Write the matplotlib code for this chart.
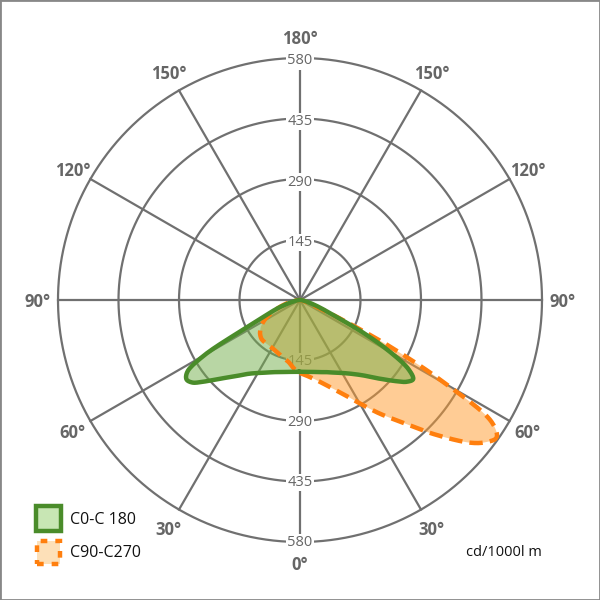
import numpy as np
import matplotlib.pyplot as plt
from matplotlib.patches import Rectangle
from matplotlib.transforms import offset_copy

# gamma angles (deg) and intensities (cd/1000lm)
gamma = [0, 5, 10, 15, 20, 25, 30, 35, 40, 45, 50, 52.5, 55, 57.5, 60, 62.5, 65, 70, 75, 80, 85, 90]

c0 = [172, 173, 175, 179, 184, 192, 202, 216, 236, 266, 303, 322, 331, 308, 250, 175, 100, 45, 20, 8, 3, 0]
c180 = [172, 173, 175, 179, 184, 192, 202, 216, 238, 266, 305, 325, 332, 320, 265, 155, 100, 55, 25, 10, 3, 0]
c90 = [175, 182, 192, 206, 225, 250, 286, 332, 384, 455, 532, 560, 575, 545, 410, 250, 110, 25, 10, 4, 1, 0]
c270 = [175, 165, 152, 145, 140, 136, 133, 132, 132, 131, 125, 120, 115, 108, 100, 90, 78, 55, 35, 18, 6, 0]

rings = [145, 290, 435, 580]
spokes = list(range(0, 360, 30))
angle_labels = ['0°', '30°', '60°', '90°', '120°', '150°', '180°', '150°', '120°', '90°', '60°', '30°']
legend_names = ['C0-C 180', 'C90-C270']
unit = 'cd/1000l m'

plt.rcParams['font.family'] = ['Open Sans', 'DejaVu Sans']

fig = plt.figure(figsize=(6, 6), dpi=100)
ax = fig.add_axes([58/600, 58/600, 484/600, 484/600], projection='polar')
ax.set_theta_zero_location('S')
ax.set_theta_direction(1)
ax.set_ylim(0, 580)
ax.grid(False)
ax.set_xticks([])
ax.set_yticks([])
ax.spines['polar'].set_visible(False)
ax.patch.set_alpha(0)

gc = '#707070'
t = np.linspace(0, 2*np.pi, 400)
for r in rings:
    ax.plot(t, np.full_like(t, r), color=gc, lw=1.6, zorder=1, clip_on=False)
for s in spokes:
    ax.plot([np.radians(s), np.radians(s)], [0, 580], color=gc, lw=1.6, zorder=1, clip_on=False)

# ring labels on the vertical axis (top ones sit a bit lower)
for th, dy in ((np.pi, -3), (0, -1)):
    tr = offset_copy(ax.transData, fig=fig, x=0, y=dy, units='dots')
    for r in rings:
        ax.text(th, r, str(r), ha='center', va='center', fontsize=10.5, color='#666666', zorder=2,
                transform=tr, bbox=dict(facecolor='white', edgecolor='none', pad=1.0))

tr_lab = offset_copy(ax.transData, fig=fig, x=0, y=-2, units='dots')
for s, lab in zip(spokes, angle_labels):
    ax.text(np.radians(s), 630, lab, ha='center', va='center', fontsize=12, fontweight='bold',
            color='#666666', clip_on=False, transform=tr_lab)


def smooth(px, py, n=12):
    # centripetal catmull-rom through a closed list of points
    P = np.column_stack([px, py])
    P = P[:-1]
    m = len(P)
    out = []
    for i in range(m):
        p0, p1, p2, p3 = P[i-1], P[i], P[(i+1) % m], P[(i+2) % m]
        def tj(ti, a, b):
            return ti + max(np.hypot(*(b - a)), 1e-6) ** 0.5
        t0 = 0.0
        t1 = tj(t0, p0, p1)
        t2 = tj(t1, p1, p2)
        t3 = tj(t2, p2, p3)
        for u in np.linspace(t1, t2, n, endpoint=False):
            a1 = (t1-u)/(t1-t0)*p0 + (u-t0)/(t1-t0)*p1
            a2 = (t2-u)/(t2-t1)*p1 + (u-t1)/(t2-t1)*p2
            a3 = (t3-u)/(t3-t2)*p2 + (u-t2)/(t3-t2)*p3
            b1 = (t2-u)/(t2-t0)*a1 + (u-t0)/(t2-t0)*a2
            b2 = (t3-u)/(t3-t1)*a2 + (u-t1)/(t3-t1)*a3
            out.append((t2-u)/(t2-t1)*b1 + (u-t1)/(t2-t1)*b2)
    out.append(out[0])
    out = np.array(out)
    return out[:, 0], out[:, 1]


def curve(right, left):
    g = np.radians(gamma)
    th = np.concatenate([g, -g[::-1][1:]])
    rr = np.concatenate([right, left[::-1][1:]])
    th = np.append(th, th[0])
    rr = np.append(rr, rr[0])
    x, y = smooth(rr*np.sin(th), -rr*np.cos(th))
    return np.arctan2(x, -y), np.hypot(x, y)


th_o, r_o = curve(c90, c270)
th_g, r_g = curve(c0, c180)

green_line = '#4a8c2a'
green_fill = '#73af4b'
orange_line = '#ff7f0e'
orange_fill = '#ff9b2d'

ax.fill(th_o, r_o, color=orange_fill, alpha=0.5, lw=0, zorder=3)
ax.fill(th_g, r_g, color=green_fill, alpha=0.5, lw=0, zorder=4)
ax.plot(th_o, r_o, color=orange_line, lw=3.2, ls=(0, (3, 1.6)), zorder=5)
ax.plot(th_g, r_g, color=green_line, lw=3.2, zorder=6, solid_joinstyle='round')

# legend
def px(x, y):
    return x/600, 1 - y/600

fig.add_artist(Rectangle(px(36, 531), 25/600, 25/600, transform=fig.transFigure,
                         facecolor='#c8e6b4', edgecolor=green_line, lw=3.2))
fig.add_artist(Rectangle(px(37, 564), 23/600, 23/600, transform=fig.transFigure,
                         facecolor='#fde0b8', edgecolor=orange_line, lw=3.2, ls=(0, (1.5, 1.8))))
fig.text(*px(70, 520), legend_names[0], ha='left', va='center', fontsize=11.5, color='#111111')
fig.text(*px(70, 553), legend_names[1], ha='left', va='center', fontsize=11.5, color='#111111')
fig.text(*px(542, 553), unit, ha='right', va='center', fontsize=10.5, color='#111111')

fig.add_artist(Rectangle((0, 0), 1, 1, transform=fig.transFigure, fill=False,
                         edgecolor='#888888', lw=2))

fig.savefig('out.png', dpi=100)
